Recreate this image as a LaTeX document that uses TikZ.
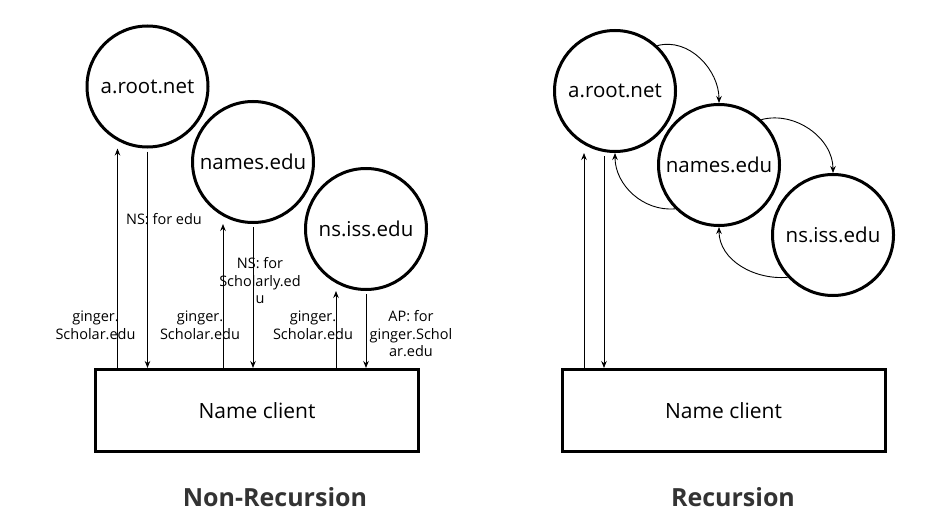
\documentclass[tikz,border=0pt]{standalone}
\usepackage{fontspec}
\setmainfont{Open Sans}
\usetikzlibrary{arrows.meta}

\begin{document}
\begin{tikzpicture}[x=1pt, y=1pt,
  >={Stealth[length=7pt,width=5.5pt]},
  server/.style={circle, draw, line width=3pt, minimum size=121pt, inner sep=0pt,
    font=\fontsize{20.5}{24}\selectfont},
  clientbox/.style={draw, line width=3pt, minimum width=323pt, minimum height=82pt,
    inner sep=0pt, font=\fontsize{21}{25}\selectfont},
  msg/.style={align=center, inner sep=0pt, font=\fontsize{14.5}{17.5}\selectfont},
  call/.style={->, line width=0.9pt},
  caption/.style={text=black!80, font=\fontsize{25}{29}\selectfont\bfseries}]

  \useasboundingbox (0,0) rectangle (931,-524);

  %--- Non-Recursion (links)
  \node[server]    (root)   at (147.5,-86.5) {a.root.net};
  \node[server]    (names)  at (253,-162)    {names.edu};
  \node[server]    (iss)    at (366,-229)    {ns.iss.edu};
  \node[clientbox] (client) at (257,-410.5)  {Name client};

  % Anfrage nach oben, Antwort nach unten
  \coordinate (root_up)  at ([xshift=-30pt]root.south);
  \coordinate (root_dn)  at ([yshift=-3pt]root.south);
  \coordinate (names_up) at ([xshift=-30pt]names.south);
  \coordinate (names_dn) at ([yshift=-3pt]names.south);
  \coordinate (iss_up)   at ([xshift=-30pt]iss.south);
  \coordinate (iss_dn)   at ([yshift=-3pt]iss.south);

  \draw[call] (root_up |- client.north) -- (root_up);
  \draw[call] (root_dn) -- (root_dn |- client.north);
  \draw[call] (names_up |- client.north) -- (names_up);
  \draw[call] (names_dn) -- (names_dn |- client.north);
  \draw[call] (iss_up |- client.north) -- (iss_up);
  \draw[call] (iss_dn) -- (iss_dn |- client.north);

  % Beschriftungen der Nachrichten
  \node[msg] (q_root)  at (95.5,-325.5) {ginger.\\Scholar.edu};
  \node[msg] (a_root)  at (164,-219)    {NS: for edu};
  \node[msg] (q_names) at (200,-325.5)  {ginger.\\Scholar.edu};
  \node[msg] (a_names) at (260,-281)    {NS: for\\Scholarly.ed\\u};
  \node[msg] (q_iss)   at (313,-325.5)  {ginger.\\Scholar.edu};
  \node[msg] (a_iss)   at (411,-334)    {AP: for\\ginger.Schol\\ar.edu};

  \node[caption] (cap_left) at (275,-497) {Non-Recursion};

  %--- Recursion (rechts)
  \node[server]    (rroot)   at (615,-91)     {a.root.net};
  \node[server]    (rnames)  at (719,-165)    {names.edu};
  \node[server]    (riss)    at (833,-235)    {ns.iss.edu};
  \node[clientbox] (rclient) at (723.5,-410.5) {Name client};

  \coordinate (rroot_up) at ([xshift=-31pt]rroot.south);
  \coordinate (rroot_dn) at ([xshift=-11pt,yshift=-3pt]rroot.south);

  \draw[call] (rroot_up |- rclient.north) -- (rroot_up);
  \draw[call] (rroot_dn) -- (rroot_dn |- rclient.north);

  % Weiterleitung zwischen den Servern
  \draw[call] (rroot.47)   to[out=15, in=90]   (rnames.north);
  \draw[call] (rnames.47)  to[out=15, in=90]   (riss.north);
  \draw[call] (rnames.225) to[out=185, in=-90] (rroot.south);
  \draw[call] (riss.223)   to[out=185, in=-90] (rnames.south);

  \node[caption] (cap_right) at (733,-497) {Recursion};
\end{tikzpicture}
\end{document}
